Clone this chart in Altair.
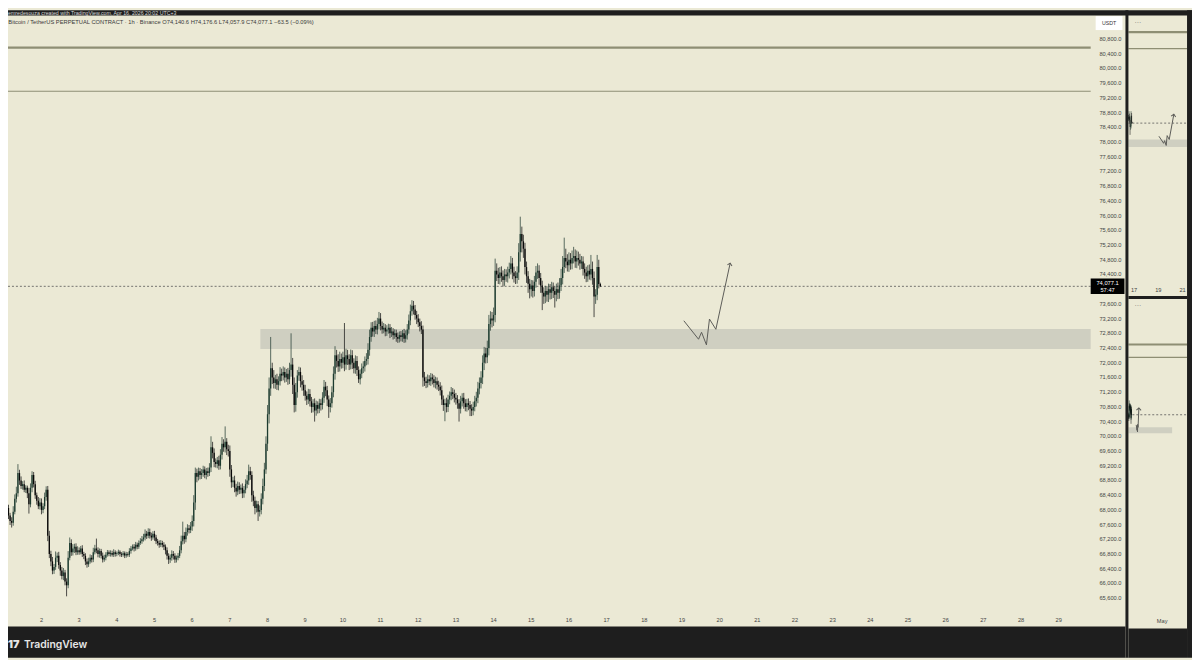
import altair as alt
import pandas as pd

# ---------------- chart data ----------------
HEADER = "emredesouza created with TradingView.com, Apr 16, 2026 20:02 UTC+3"
TITLE = ("Bitcoin / TetherUS PERPETUAL CONTRACT · 1h · Binance   O74,140.6  H74,176.6  "
         "L74,057.9  C74,077.1  −63.5 (−0.09%)")

# hourly candles, Apr 1 00:00 -> Apr 16 20:00 ; one list per day (closes)
first_open = 68100.0
c01 = [68150, 68250, 68050, 67850, 67700, 67650, 67950, 68300, 68450, 69000, 68800, 68650,
       68700, 68550, 68600, 68450, 68150, 68600, 68950, 68700, 68400, 68250, 68100, 68200]
c02 = [68000, 68100, 68350, 68550, 67300, 66800, 66600, 66350, 66450, 66700, 66750, 66500,
       66350, 66200, 66300, 66050, 65950, 66700, 67100, 66850, 66950, 67000, 66850, 66900]
c03 = [66850, 66950, 66800, 66750, 66600, 66520, 66600, 66700, 66650, 66850, 66950, 66900,
       66800, 66880, 66750, 66650, 66700, 66780, 66850, 66800, 66830, 66780, 66850, 66800]
c04 = [66820, 66860, 66800, 66780, 66820, 66760, 66800, 66780, 66880, 66950, 67000, 66950,
       67050, 67000, 67100, 67150, 67200, 67250, 67350, 67300, 67400, 67300, 67250, 67350]
c05 = [67250, 67150, 67100, 67050, 67100, 67050, 67000, 66900, 66750, 66650, 66700, 66800,
       66750, 66650, 66700, 66750, 66900, 67150, 67300, 67200, 67400, 67500, 67450, 67550]
c06 = [67700, 68200, 69000, 68900, 69050, 68950, 69000, 69100, 68950, 69050, 69000, 69150,
       69700, 69550, 69300, 69250, 69350, 69200, 69500, 69800, 69700, 69850, 69650, 69600]
c07 = [69100, 68750, 68800, 68600, 68500, 68650, 68550, 68600, 68450, 68550, 68700, 68800,
       69050, 68950, 68400, 68250, 68050, 68150, 67950, 68000, 68300, 68650, 69100, 69800]
c08 = [70600, 71300, 71850, 71600, 71450, 71550, 71400, 71500, 71700, 71650, 71750, 71600,
       71700, 71550, 71800, 71950, 71400, 70850, 71200, 71650, 71750, 71500, 71400, 71250]
c09 = [71100, 71000, 71150, 70950, 70800, 70900, 70700, 70850, 70750, 70900, 70850, 71050,
       71350, 71250, 71000, 70800, 70900, 71200, 71700, 72200, 72050, 71900, 72100, 72000]
c10 = [72150, 71950, 72200, 72100, 71950, 72200, 72000, 71850, 72050, 71800, 71550, 71700,
       71850, 71900, 72050, 72100, 72350, 72700, 72950, 72850, 73000, 72900, 73050, 73200]
c11 = [73000, 72900, 72950, 72850, 72900, 72950, 72800, 72850, 72750, 72800, 72700, 72650,
       72750, 72700, 72800, 72650, 72750, 72900, 73150, 73400, 73550, 73450, 73300, 73200]
c12 = [73100, 73000, 72900, 71600, 71500, 71450, 71550, 71500, 71600, 71550, 71450, 71500,
       71400, 71350, 71250, 71000, 70850, 70900, 70800, 71000, 71100, 71200, 71150, 71050]
c13 = [71000, 70900, 70750, 70950, 71050, 70900, 70800, 70900, 70850, 70750, 70700, 70800,
       70950, 71050, 71300, 71450, 71600, 72000, 72250, 72150, 72400, 73050, 73200, 73150]
c14 = [73300, 74500, 74400, 74300, 74450, 74350, 74250, 74400, 74350, 74450, 74550, 74700,
       74450, 74350, 74300, 74450, 75000, 75500, 75300, 75100, 74600, 74350, 74150, 74000]
c15 = [74100, 73950, 74200, 74450, 74500, 74300, 74100, 73900, 73800, 73950, 73850, 74000,
       73900, 74050, 73950, 73850, 74000, 73900, 74100, 74300, 74600, 74850, 74750, 74650]
c16 = [74800, 74700, 74850, 74900, 74750, 74850, 74800, 74700, 74750, 74550, 74450, 74350,
       74500, 74400, 74550, 74300, 73800, 73850, 74600, 74140.6, 74077.1]

# upper wick lengths (USDT above max(open, close))
u01 = [80, 120, 60, 90, 70, 100, 150, 120, 180, 244, 90, 110, 80, 100, 70, 60, 150, 120, 100, 80, 90, 70, 100, 120]
u02 = [110, 80, 120, 90, 100, 130, 90, 120, 80, 170, 90, 110, 80, 100, 120, 70, 90, 180, 150, 100, 120, 80, 90, 110]
u03 = [80, 70, 90, 60, 70, 80, 100, 90, 70, 120, 100, 270, 80, 70, 60, 90, 80, 70, 60, 50, 70, 60, 80, 50]
u04 = [50, 60, 40, 50, 60, 50, 60, 50, 80, 70, 60, 70, 80, 60, 70, 80, 90, 100, 120, 80, 100, 90, 80, 70]
u05 = [80, 70, 60, 70, 80, 60, 70, 60, 80, 70, 90, 100, 80, 70, 60, 80, 120, 150, 380, 100, 120, 110, 90, 120]
u06 = [150, 200, 150, 120, 100, 90, 110, 100, 80, 90, 100, 120, 300, 150, 120, 100, 90, 120, 150, 180, 120, 420, 100, 120]
u07 = [150, 120, 100, 130, 110, 120, 100, 90, 120, 100, 130, 150, 180, 120, 100, 120, 110, 100, 90, 120, 150, 200, 180, 200]
u08 = [250, 300, 850, 150, 200, 120, 150, 130, 180, 140, 150, 120, 130, 160, 200, 850, 180, 200, 250, 150, 140, 120, 160, 130]
u09 = [150, 120, 140, 130, 120, 110, 130, 120, 100, 120, 110, 150, 180, 130, 120, 110, 140, 160, 200, 250, 150, 180, 200, 150]
u10 = [150, 930, 180, 150, 130, 160, 140, 120, 150, 130, 100, 120, 130, 140, 120, 160, 180, 200, 150, 160, 140, 150, 170, 180]
u11 = [150, 120, 130, 100, 120, 110, 100, 120, 90, 110, 100, 120, 100, 110, 90, 120, 130, 150, 160, 180, 150, 130, 120, 110]
u12 = [120, 100, 130, 110, 150, 120, 130, 110, 120, 100, 110, 120, 100, 110, 120, 130, 110, 120, 150, 130, 120, 140, 110, 120]
u13 = [130, 120, 110, 150, 120, 130, 110, 120, 130, 110, 120, 140, 150, 160, 180, 150, 170, 200, 180, 160, 200, 250, 200, 180]
u14 = [200, 330, 200, 180, 150, 170, 160, 150, 140, 160, 170, 200, 150, 160, 140, 170, 250, 470, 200, 180, 160, 150, 140, 130]
u15 = [150, 140, 160, 180, 200, 150, 140, 130, 150, 140, 130, 150, 140, 150, 130, 140, 150, 180, 200, 250, 300, 550, 250, 200]
u16 = [200, 180, 200, 250, 180, 200, 170, 160, 150, 140, 150, 160, 150, 170, 380, 200, 180, 150, 330, 200, 36]

# lower wick lengths (USDT below min(open, close))
d01 = [60, 90, 120, 100, 110, 130, 80, 70, 100, 90, 120, 80, 100, 70, 90, 130, 250, 80, 120, 90, 100, 110, 80, 90]
d02 = [120, 90, 80, 100, 150, 110, 130, 100, 90, 80, 120, 100, 140, 90, 110, 100, 300, 80, 70, 100, 90, 120, 80, 70]
d03 = [70, 60, 80, 90, 100, 90, 70, 60, 80, 70, 60, 80, 90, 100, 70, 80, 60, 70, 50, 60, 70, 50, 60, 70]
d04 = [60, 50, 70, 60, 50, 70, 60, 50, 60, 70, 50, 80, 60, 70, 60, 50, 70, 60, 80, 90, 70, 80, 90, 60]
d05 = [90, 80, 70, 80, 60, 70, 90, 110, 100, 120, 90, 80, 100, 90, 80, 70, 60, 80, 90, 120, 80, 100, 90, 80]
d06 = [120, 150, 200, 150, 100, 120, 110, 100, 90, 120, 100, 80, 120, 150, 140, 100, 120, 110, 100, 130, 120, 140, 160, 150]
d07 = [200, 150, 130, 120, 140, 100, 120, 110, 130, 120, 100, 110, 120, 130, 180, 150, 170, 120, 250, 130, 120, 150, 140, 120]
d08 = [200, 250, 200, 180, 150, 160, 140, 150, 120, 150, 130, 140, 120, 150, 130, 180, 250, 200, 180, 150, 140, 170, 160, 150]
d09 = [130, 150, 120, 140, 160, 150, 300, 140, 130, 120, 150, 120, 140, 160, 180, 300, 150, 120, 140, 160, 180, 150, 140, 160]
d10 = [150, 180, 140, 160, 150, 130, 170, 140, 150, 160, 100, 140, 120, 130, 140, 120, 150, 160, 130, 140, 150, 120, 130, 140]
d11 = [120, 110, 100, 130, 120, 110, 130, 100, 120, 100, 130, 110, 100, 120, 130, 110, 100, 120, 110, 130, 120, 140, 130, 150]
d12 = [130, 150, 120, 250, 130, 140, 120, 110, 130, 140, 120, 150, 130, 120, 140, 150, 160, 440, 150, 140, 130, 120, 140, 130]
d13 = [140, 150, 350, 130, 140, 150, 120, 130, 140, 200, 150, 130, 120, 140, 150, 160, 150, 180, 200, 170, 160, 200, 180, 190]
d14 = [150, 200, 180, 160, 170, 150, 180, 160, 150, 170, 160, 150, 180, 170, 160, 150, 200, 250, 300, 250, 200, 180, 250, 250]
d15 = [200, 180, 150, 160, 170, 180, 200, 470, 200, 180, 190, 200, 180, 170, 190, 350, 180, 170, 160, 150, 170, 160, 180, 170]
d16 = [180, 170, 160, 150, 170, 180, 160, 170, 150, 180, 170, 160, 150, 140, 160, 180, 560, 200, 150, 120, 19.2]

# drawings
hline_prices = [80565.0, 79380.0]
zone_low, zone_high = 72370.0, 72915.0
zone_start_day, zone_end_day = 7.81, 35.57
sketch_day = [19.05, 19.44, 19.52, 19.65, 19.73, 19.90, 20.28]
sketch_price = [73141, 72639, 72828, 72485, 73187, 72909, 74707]
last_price = 74077.1
last_price_text = "74,077.1"
countdown = "57:47"

price_ticks = [80800, 80400, 80000, 79600, 79200, 78800, 78400, 78000, 77600, 77200, 76800,
               76400, 76000, 75600, 75200, 74800, 74400, 73600, 73200, 72800, 72400, 72000,
               71600, 71200, 70800, 70400, 70000, 69600, 69200, 68800, 68400, 68000, 67600,
               67200, 66800, 66400, 66000, 65600]
day_ticks = [2, 3, 4, 5, 6, 7, 8, 9, 10, 11, 12, 13, 14, 15, 16, 17, 18, 19, 20, 21, 22, 23,
             24, 25, 26, 27, 28, 29]
top_mini_ticks = [17, 19, 21]
bottom_mini_ticks = [31]
bottom_mini_labels = ["May"]

# ---------------- build tables ----------------
closes = c01 + c02 + c03 + c04 + c05 + c06 + c07 + c08 + c09 + c10 + c11 + c12 + c13 + c14 + c15 + c16
ups = u01 + u02 + u03 + u04 + u05 + u06 + u07 + u08 + u09 + u10 + u11 + u12 + u13 + u14 + u15 + u16
dns = d01 + d02 + d03 + d04 + d05 + d06 + d07 + d08 + d09 + d10 + d11 + d12 + d13 + d14 + d15 + d16
n = len(closes)
if not (len(ups) == n and len(dns) == n):
    raise ValueError(f"length mismatch {n} {len(ups)} {len(dns)}")
opens = [first_open] + closes[:-1]
cdf = pd.DataFrame({
    "day": [1 + h / 24 for h in range(n)],
    "open": opens,
    "close": closes,
    "high": [max(o, c) + u for o, c, u in zip(opens, closes, ups)],
    "low": [min(o, c) - d for o, c, d in zip(opens, closes, dns)],
})
cdf["dir"] = ["up" if c >= o else "down" for o, c in zip(opens, closes)]

zone_df = pd.DataFrame({"d0": [zone_start_day], "d1": [zone_end_day], "lo": [zone_low], "hi": [zone_high]})
sketch_df = pd.DataFrame({"i": list(range(len(sketch_day))), "day": sketch_day, "price": sketch_price})
tip_df = sketch_df.tail(1)
last_df = pd.DataFrame({"price": [last_price], "txt": [last_price_text], "cd": [countdown]})
ptick_df = pd.DataFrame({"price": price_ticks, "txt": [f"{p:,.1f}" for p in price_ticks]})
dtick_df = pd.DataFrame({"day": day_ticks, "txt": [str(d) for d in day_ticks]})
ttick_df = pd.DataFrame({"day": top_mini_ticks, "txt": [str(d) for d in top_mini_ticks]})
btick_df = pd.DataFrame({"day": bottom_mini_ticks, "txt": bottom_mini_labels})
one = pd.DataFrame({"k": [0]})

# ---------------- styling / layout (view pixels) ----------------
W, H = 1192, 652
BG = "#ebe9d5"
DARK = "#1e1e1e"
UP = "#1c3b2f"
DOWN = "#080808"
WICK_UP = "#33493f"
WICK_DN = "#222222"
ZONE = "#cfcfc1"
HL = "#8e8e74"
SKETCH = "#5c5c58"
TXT = "#444444"
FONT = "Liberation Sans"
ARROW = "M -1 1 L 0 0 L 1 1"

MAIN_R, PANEL_R = 1090, 1125
SIDE_L, SIDE_R = 1128, 1187

xs_m = alt.Scale(domain=[1.11151, 32.5378], nice=False, zero=False)
ys_m = alt.Scale(domain=[63979, 81583], nice=False, zero=False)
xs_t = alt.Scale(domain=[-75.926, 21.779], nice=False, zero=False)
ys_t = alt.Scale(domain=[35991, 82121], nice=False, zero=False)
xs_b = alt.Scale(domain=[-499.59, 44.70], nice=False, zero=False)
ys_b = alt.Scale(domain=[51638, 111426], nice=False, zero=False)


def X(f, s):
    return alt.X(f, scale=s, axis=None)


def Y(f, s):
    return alt.Y(f, scale=s, axis=None)


def candles(data, xs, ys, wick_w, body_w):
    base = alt.Chart(data).encode(x=X("day:Q", xs))
    wick = base.mark_rule(strokeWidth=wick_w).encode(
        y=Y("low:Q", ys), y2="high:Q",
        color=alt.condition("datum.dir == 'up'", alt.value(WICK_UP), alt.value(WICK_DN)))
    body = base.mark_rule(strokeWidth=body_w).encode(
        y=Y("open:Q", ys), y2="close:Q",
        color=alt.condition("datum.dir == 'up'", alt.value(UP), alt.value(DOWN)))
    return [wick, body]


def sketch(xs, ys, angle):
    line = alt.Chart(sketch_df).mark_line(color=SKETCH, strokeWidth=1).encode(
        x=X("day:Q", xs), y=Y("price:Q", ys), order="i:Q")
    tip = alt.Chart(tip_df).mark_point(shape=ARROW, filled=False, color=SKETCH, size=22,
                                       strokeWidth=1, angle=angle, opacity=1).encode(
        x=X("day:Q", xs), y=Y("price:Q", ys))
    return [line, tip]


def hlines(ys, x0, x1):
    out = []
    for p, w in zip(hline_prices, [2.2, 1.2]):
        out.append(alt.Chart(pd.DataFrame({"price": [p]})).mark_rule(color=HL, strokeWidth=w).encode(
            y=Y("price:Q", ys), x=alt.value(x0), x2=alt.value(x1)))
    return out


def dashed_last(ys, x0, x1):
    return alt.Chart(last_df).mark_rule(color="#555555", strokeWidth=0.8, strokeDash=[2, 2]).encode(
        y=Y("price:Q", ys), x=alt.value(x0), x2=alt.value(x1))


def band(x, x2, y, y2, color):
    return alt.Chart(one).mark_rect(color=color).encode(
        x=alt.value(x), x2=alt.value(x2), y=alt.value(y), y2=alt.value(y2))


def label(text, x, y, size, color, align="left", baseline="middle", font=FONT, weight="normal"):
    return alt.Chart(one).mark_text(text=text, align=align, baseline=baseline, fontSize=size,
                                    color=color, font=font, fontWeight=weight).encode(
        x=alt.value(x), y=alt.value(y))


# ---------------- main panel ----------------
main_layers = [
    alt.Chart(zone_df).mark_rect(color=ZONE).encode(
        x=X("d0:Q", xs_m), x2=alt.value(MAIN_R), y=Y("lo:Q", ys_m), y2="hi:Q"),
    *hlines(ys_m, 0, MAIN_R),
    dashed_last(ys_m, 0, MAIN_R),
    *candles(cdf, xs_m, ys_m, 0.8, 1.3),
    *sketch(xs_m, ys_m, 12),
    alt.Chart(ptick_df).mark_text(align="right", baseline="middle", fontSize=5.7, color=TXT,
                                  font=FONT).encode(
        x=alt.value(1121), y=Y("price:Q", ys_m), text="txt:N"),
    alt.Chart(dtick_df).mark_text(align="center", baseline="middle", fontSize=5.7, color=TXT,
                                  font=FONT).encode(
        x=X("day:Q", xs_m), y=alt.value(613.5), text="txt:N"),
    alt.Chart(last_df).mark_tick(orient="horizontal", size=34, thickness=15.5, color="#000000",
                                 opacity=1).encode(
        x=alt.value(1107), y=Y("price:Q", ys_m)),
    alt.Chart(last_df).mark_text(align="center", baseline="middle", fontSize=5.8, color="#ffffff",
                                 font=FONT, dy=-3.6).encode(
        x=alt.value(1107), y=Y("price:Q", ys_m), text="txt:N"),
    alt.Chart(last_df).mark_text(align="center", baseline="middle", fontSize=5.8, color="#ffffff",
                                 font=FONT, dy=3.8).encode(
        x=alt.value(1107), y=Y("price:Q", ys_m), text="cd:N"),
]
main = alt.layer(*main_layers)

# ---------------- top-right mini panel ----------------
top_layers = [
    alt.Chart(zone_df).mark_rect(color=ZONE).encode(
        x=alt.value(SIDE_L), x2=alt.value(SIDE_R), y=Y("lo:Q", ys_t), y2="hi:Q"),
    *hlines(ys_t, SIDE_L, SIDE_R),
    dashed_last(ys_t, SIDE_L, SIDE_R),
    *candles(cdf[cdf["day"] >= 16.43], xs_t, ys_t, 0.6, 0.6),
    *sketch(xs_t, ys_t, 11),
    alt.Chart(ttick_df).mark_text(align="center", baseline="middle", fontSize=5.7, color=TXT,
                                  font=FONT).encode(
        x=X("day:Q", xs_t), y=alt.value(281.3), text="txt:N"),
]
top = alt.layer(*top_layers)

# ---------------- bottom-right mini panel ----------------
bot_layers = [
    alt.Chart(zone_df).mark_rect(color=ZONE).encode(
        x=X("d1:Q", xs_b), x2=alt.value(SIDE_L), y=Y("lo:Q", ys_b), y2="hi:Q"),
    *hlines(ys_b, SIDE_L, SIDE_R),
    dashed_last(ys_b, SIDE_L, SIDE_R),
    *candles(cdf[cdf["day"] >= 15.5], xs_b, ys_b, 0.6, 0.6),
    *sketch(xs_b, ys_b, 3),
    alt.Chart(btick_df).mark_text(align="center", baseline="middle", fontSize=5.7, color=TXT,
                                  font=FONT).encode(
        x=X("day:Q", xs_b), y=alt.value(615.3), text="txt:N"),
]
bot = alt.layer(*bot_layers)

# ---------------- frame, header, footer ----------------
deco = alt.layer(
    band(0, W, 0, 5.3, DARK),
    band(PANEL_R, SIDE_L, 0, H, DARK),
    band(SIDE_R, W, 0, H, DARK),
    band(SIDE_L, SIDE_R, 287.7, 290.7, DARK),
    band(0, PANEL_R, 620.5, H, DARK),
    band(SIDE_L, SIDE_R, 622.5, H, DARK),
    label(HEADER, 0, 5.6, 5.3, "#d6d6d6", baseline="bottom"),
    label(TITLE, 0.3, 12.3, 5.8, "#3a3a3a"),
    band(1095, 1122, 6, 20, "#ffffff"),
    label("USDT", 1108.5, 13, 5.3, "#333333", align="center"),
    label("···", 1134, 13, 7, "#777777"),
    label("···", 1134, 298, 7, "#777777"),
    label("17", 0, 642, 11, "#e6e6e6", baseline="alphabetic", font="Inter", weight=900),
    label("TradingView", 16, 642, 10.5, "#e6e6e6", baseline="alphabetic", font="Inter", weight=600),
)

chart = alt.layer(main, top, bot, deco).resolve_scale(
    x="independent", y="independent"
).properties(
    width=W, height=H, padding=0, background=BG,
    autosize=alt.AutoSizeParams(type="none"),
).configure_view(stroke=None, fill=BG)

chart.save("out.html", embed_options={"renderer": "svg", "actions": False})
